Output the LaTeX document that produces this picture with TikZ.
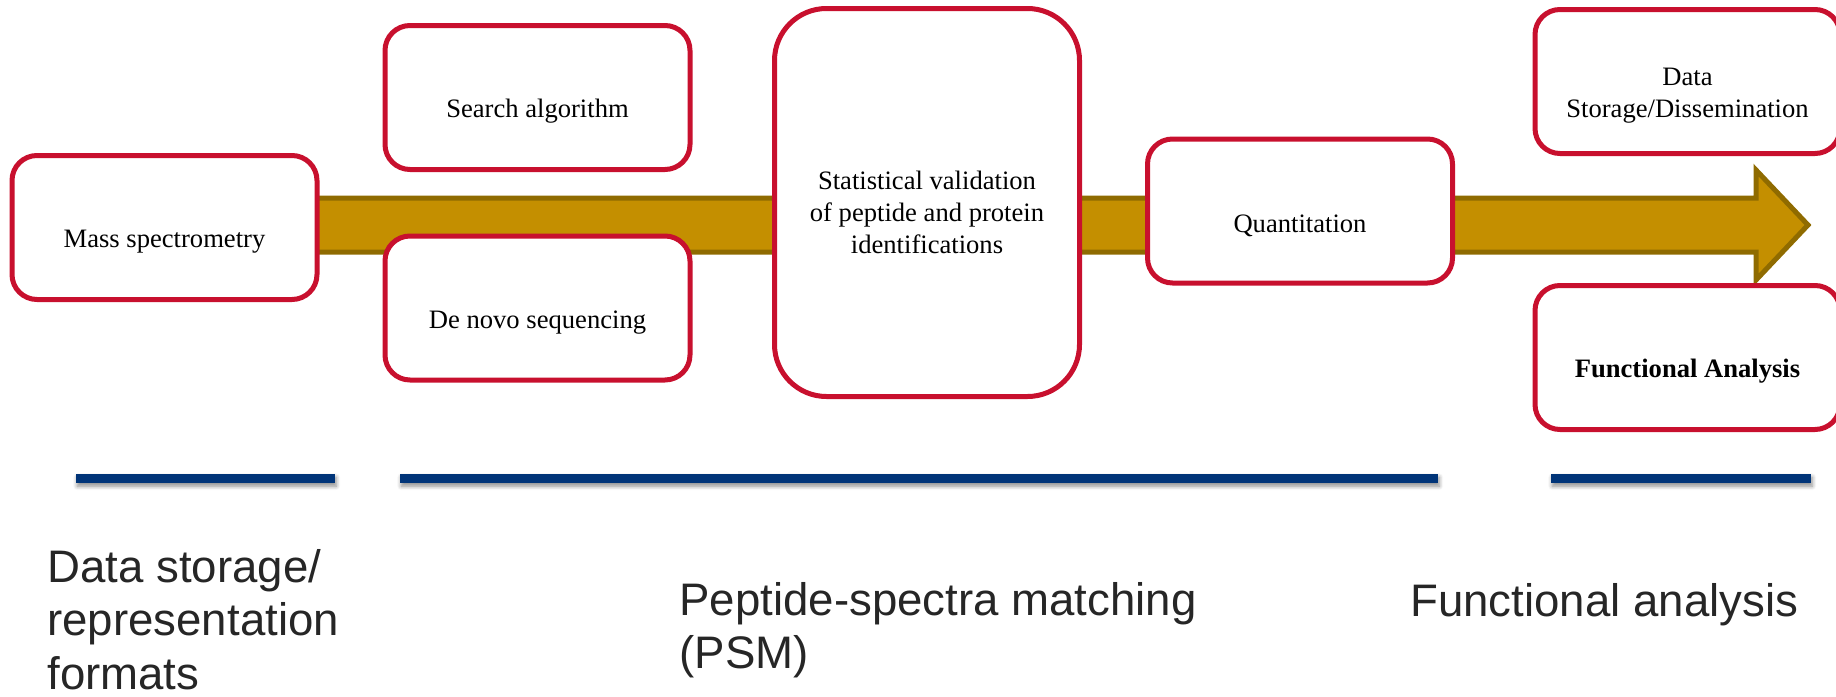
\documentclass[tikz,border=0pt]{standalone}
\usepackage{fontspec}
\setmainfont{Liberation Serif}
\newfontfamily\labelsans{Liberation Sans}
\usetikzlibrary{shadows.blur}

\definecolor{boxred}{RGB}{200,16,46}
\definecolor{arrowfill}{RGB}{196,143,0}
\definecolor{arrowedge}{RGB}{143,107,0}
\definecolor{barblue}{RGB}{0,52,120}
\definecolor{labelgray}{RGB}{38,38,38}

\begin{document}
\begin{tikzpicture}[x=0.5pt,y=-0.5pt,
  stepbox/.style={draw=boxred, line width=2.5pt, fill=white,
    rounded corners=12.5pt, minimum width=152.5pt, minimum height=72pt,
    inner sep=0pt},
  tallbox/.style={stepbox, rounded corners=26pt, minimum height=194pt},
  boxtext/.style={anchor=base, inner sep=0pt, align=center,
    font=\fontsize{13.3pt}{15.9pt}\selectfont},
  phasebar/.style={fill=barblue,
    blur shadow={shadow xshift=0.6pt, shadow yshift=-1.6pt,
      shadow blur radius=2pt, shadow blur steps=6, shadow opacity=45}},
  phaselabel/.style={anchor=base west, inner sep=0pt, align=left,
    text=labelgray, font=\labelsans\fontsize{22.8pt}{26.7pt}\selectfont}]

\clip (0,0) rectangle (1836,696);

% process arrow running behind the steps
\coordinate (tail) at (200,225);
\coordinate (tip) at (1808,225);
\filldraw[fill=arrowfill, draw=arrowedge, line width=2.5pt, miter limit=10]
  ([yshift=13.5pt]tail) -- (1756,198) -- (1756,170) -- (tip)
  -- (1756,280) -- (1756,252) -- ([yshift=-13.5pt]tail) -- cycle;

% workflow steps
\node[stepbox] (ms) at (164.5,227.5) {};
\node[stepbox] (search) at (537.5,97.5) {};
\node[stepbox] (denovo) at (537.5,308) {};
\node[tallbox] (stat) at (927,202.5) {};
\node[stepbox] (quant) at (1300,211) {};
\node[stepbox] (store) at (1687.5,81.5) {};
\node[stepbox] (func) at (1687.5,357.5) {};

% step captions (multi-line captions sit on the baseline of their last line)
\node[boxtext] (ms-t) at (164.5,247) {Mass spectrometry};
\node[boxtext] (search-t) at (537.5,117) {Search algorithm};
\node[boxtext] (denovo-t) at (537.5,328) {De novo sequencing};
\node[boxtext] (stat-t) at (927,253) {Statistical validation\\of peptide and protein\\identifications};
\node[boxtext] (quant-t) at (1300,232) {Quantitation};
\node[boxtext] (store-t) at (1687.5,117) {Data\\Storage/Dissemination};
\node[boxtext, font=\fontsize{13.3pt}{15.9pt}\selectfont\bfseries] (func-t) at (1687.5,377) {Functional Analysis};

% phase bars
\path[phasebar] (76,474) rectangle (335,483);
\path[phasebar] (400,474) rectangle (1438,483);
\path[phasebar] (1551,474) rectangle (1811,483);

% phase names
\node[phaselabel] (phase1) at (47,689) {Data storage/\\representation\\formats};
\node[phaselabel, font=\labelsans\fontsize{22.8pt}{26.5pt}\selectfont] (phase2) at (679,668) {Peptide-spectra matching\\(PSM)};
\node[phaselabel] (phase3) at (1410,616) {Functional analysis};
\end{tikzpicture}
\end{document}
